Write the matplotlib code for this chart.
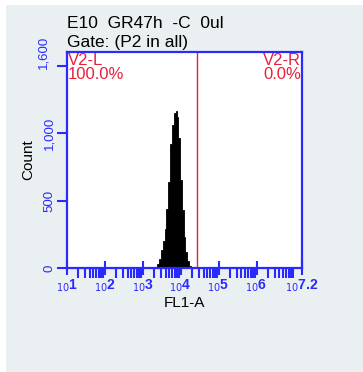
import matplotlib.pyplot as plt
from matplotlib.patches import Rectangle
from matplotlib.ticker import FixedLocator, LogLocator, NullFormatter

plt.rcParams['font.family'] = ['Liberation Sans', 'DejaVu Sans']

# histogram bins (log10 of FL1-A) and counts
bin_edges_log = [3.325, 3.375, 3.425, 3.475, 3.525, 3.575, 3.625, 3.675, 3.725,
                 3.775, 3.825, 3.865, 3.895, 3.925, 3.975, 4.025, 4.075, 4.125,
                 4.175, 4.225, 4.275]
counts = [5, 30, 70, 130, 200, 290, 440, 640, 920, 1060, 1150, 1160, 1120,
          960, 650, 430, 230, 120, 50, 15]

gate_pos = 10 ** 4.43
gate_labels = ["V2-L\n100.0%", "V2-R\n0.0%"]
title_lines = ["E10  GR47h  -C  0ul", "Gate: (P2 in all)"]
x_exponents = ["1", "2", "3", "4", "5", "6", "7.2"]
x_tick_pos = [1e1, 1e2, 1e3, 1e4, 1e5, 1e6, 10 ** 7.2]
y_ticks = [0, 500, 1000, 1500]
y_tick_labels = ["0", "500", "1,000", ""]

blue = '#2a2aff'
red = '#e8203c'

fig = plt.figure(figsize=(3.63, 3.72), dpi=100, facecolor='white')
# grey panel behind everything
fig.patches.append(Rectangle((6 / 363, 0), 1, 1 - 5 / 372, transform=fig.transFigure,
                             facecolor='#eaeff2', edgecolor='none', zorder=-1))

ax = fig.add_axes([67 / 363, 1 - 268 / 372, 235 / 363, 216 / 372])
ax.set_facecolor('white')

# staircase outline of the histogram, closed along the baseline
xs, ys = [10 ** bin_edges_log[0]], [0]
for i, c in enumerate(counts):
    xs += [10 ** bin_edges_log[i], 10 ** bin_edges_log[i + 1]]
    ys += [c, c]
xs.append(10 ** bin_edges_log[-1])
ys.append(0)
ax.fill(xs, ys, facecolor='black', edgecolor='black', lw=0.6, zorder=2)
ax.axvline(gate_pos, color=red, lw=1)

ax.set_xscale('log')
ax.set_xlim(10, 10 ** 7.2)
ax.set_ylim(0, 1600)

# x ticks: small "10" followed by the exponent
ax.xaxis.set_major_locator(FixedLocator(x_tick_pos))
ax.set_xticklabels([r"$_{10}$" + e for e in x_exponents], color=blue,
                   fontsize=10, fontweight='bold')
ax.xaxis.set_minor_locator(LogLocator(base=10, subs=range(2, 10), numticks=20))
ax.xaxis.set_minor_formatter(NullFormatter())
ax.tick_params(axis='x', which='major', direction='inout', length=10, width=1.5,
               color=blue, pad=2)
ax.tick_params(axis='x', which='minor', direction='out', length=7, width=1.5,
               color=blue)

ax.set_yticks(y_ticks)
ax.set_yticklabels(y_tick_labels, rotation=90, va='center', color=blue, fontsize=9.5)
ax.text(-0.075, 1600, "1,600", transform=ax.get_yaxis_transform(), rotation=90,
        ha='right', va='center', color=blue, fontsize=9.5)
ax.tick_params(axis='y', direction='out', length=7, width=1.5, color=blue, pad=1)

for s in ax.spines.values():
    s.set_color(blue)
    s.set_linewidth(1.6)

ax.set_xlabel("FL1-A", fontsize=11, labelpad=1)
ax.set_ylabel("Count", fontsize=11, labelpad=6)

ax.text(0.005, 0.995, gate_labels[0], transform=ax.transAxes, ha='left', va='top',
        color=red, fontsize=12, linespacing=0.9)
ax.text(0.995, 0.995, gate_labels[1], transform=ax.transAxes, ha='right', va='top',
        color=red, fontsize=12, linespacing=0.9, multialignment='right')

fig.text(67 / 363, 1 - 23 / 372, title_lines[0], ha='left', va='center', fontsize=12.5)
fig.text(67 / 363, 1 - 43 / 372, title_lines[1], ha='left', va='center', fontsize=12.5)

fig.savefig('out.png', dpi=100, facecolor=fig.get_facecolor())
